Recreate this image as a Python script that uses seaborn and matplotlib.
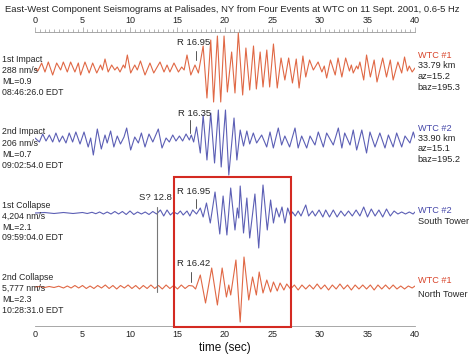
import pandas as pd
import matplotlib
matplotlib.use("Agg")
import matplotlib.pyplot as plt
from matplotlib.patches import Rectangle
from matplotlib.ticker import MultipleLocator
import seaborn as sns

# picks / amplitudes (time in s, amplitude up = +)
t_imp1 = [0.0, 0.3, 0.7, 1.05, 1.4, 1.86, 2.28, 2.7, 2.98, 3.4, 3.75, 4.2, 4.56, 4.8, 5.26, 5.7,
          6.07, 6.5, 6.9, 7.1, 7.37, 7.7, 8.07, 8.4, 8.66, 8.95, 9.3, 9.47, 9.72, 10.07, 10.5,
          10.77, 11.1, 11.58, 12.1, 12.5, 13.16, 13.58, 13.9, 14.2, 14.63, 15.1, 15.44, 15.7,
          16.0, 16.4, 16.84, 17.2, 17.7, 18.1, 18.5, 18.8, 19.2, 19.55, 19.9, 20.25, 20.7, 21.05,
          21.4, 21.86, 22.2, 22.6, 23.0, 23.3, 23.7, 24.0, 24.4, 24.7, 25.1, 25.5, 25.9, 26.3,
          26.7, 27.1, 27.5, 27.8, 28.2, 28.5, 28.9, 29.3, 29.8, 30.2, 30.45, 30.7, 31.1, 31.6,
          31.9, 32.3, 32.7, 33.1, 33.3, 33.5, 33.85, 34.0, 34.2, 34.6, 34.9, 35.3, 35.7, 36.0,
          36.6, 37.0, 37.4, 37.7, 38.2, 38.6, 38.9, 39.2, 39.4, 39.7, 40.0]
a_imp1 = [0, -3, 5, -4, 6, -7, 5, -2, 6, -4, 6, -4, 5, -7, 6, -5,
          5, -5, 3, -2, 9, -4, 3, -2, 1, -4, 3, 0, 13, -5, 3,
          -2, 7, -7, 5, -5, 6, -4, 3, -4, 5, -4, 1, -2,
          13, -7, 3, -5, 22, -30, 28, -34, 32, -34, 32, -24, 16, -25,
          35, -27, 20, -22, 22, -21, 16, -19, 18, -19, 24, -20, 10, -12,
          10, -15, 9, -20, 12, -9, 8, -2, 6, -4, 2, -10, 8, -7,
          10, -9, 10, -3, 3, -5, 2, -1, 6, -12, 13, -9, 8, -14,
          10, -9, 8, -12, 6, -5, 11, -3, 2, -4, 0]

t_imp2 = [0.0, 0.46, 0.81, 1.16, 1.51, 1.86, 2.2, 2.56, 2.9, 3.26, 3.6, 3.96, 4.3, 4.74, 5.16,
          5.6, 5.86, 6.14, 6.56, 6.98, 7.37, 7.6, 7.96, 8.3, 8.66, 9.0, 9.37, 9.65, 10.07, 10.5,
          10.88, 11.2, 11.58, 12.0, 12.4, 12.98, 13.37, 13.8, 14.14, 14.5, 14.84, 15.2, 15.54,
          15.9, 16.25, 16.45, 16.7, 17.0, 17.4, 17.7, 18.1, 18.5, 18.9, 19.3, 19.6, 20.05, 20.4,
          20.95, 21.25, 21.6, 21.95, 22.3, 22.6, 22.98, 23.33, 23.86, 24.39, 24.74, 25.09, 25.61,
          25.96, 26.3, 26.8, 27.37, 27.7, 28.07, 28.6, 28.95, 29.47, 29.82, 30.35, 30.7, 31.4,
          31.93, 32.3, 32.6, 33.16, 33.5, 33.86, 34.4, 34.9, 35.26, 35.79, 36.3, 36.84, 37.2,
          37.7, 38.07, 38.6, 38.95, 39.47, 39.82, 40.0]
a_imp2 = [0, -4, 4, -3, 3, -4, 5, -4, 2, -5, 5, -4, 6, -6, 6,
          -9, 0, -17, 9, -11, 3, -5, 7, -9, 2, -6, 1, 10, -12, 1,
          -5, 5, -9, 4, -4, 9, -10, 0, -4, 3, -3, 2, -3,
          4, -2, 3, -4, 11, -15, 23, -22, 25, -25, 28, -29, 28, -37,
          20, -22, 8, -8, 7, -6, 5, -5, 3, -9, 6, -10, 10,
          -7, 2, -9, 10, -10, 2, -10, 2, -7, 6, -9, 5, -7,
          10, -10, 5, -7, 8, -12, 8, -15, 6, -9, 5, -10, 3,
          -9, 5, -9, 2, -5, 6, 0]

t_col1 = [0.0, 1.0, 2.0, 3.0, 4.0, 5.0, 5.5, 6.0, 6.4, 6.8, 7.2, 7.6, 8.0, 8.4, 8.8, 9.2, 9.6,
          10.0, 10.4, 10.8, 11.2, 11.6, 12.0, 12.4, 12.8, 13.2, 13.55, 13.9, 14.25, 14.6, 15.0,
          15.3, 15.6, 16.0, 16.3, 16.6, 17.0, 17.4, 17.7, 18.05, 18.45, 18.95, 19.45, 19.8, 20.2,
          20.6, 21.05, 21.3, 21.45, 21.6, 21.95, 22.3, 22.6, 23.15, 23.55, 24.0, 24.45, 24.8,
          25.1, 25.4, 25.7, 26.0, 26.3, 26.6, 26.9, 27.1, 27.4, 27.7, 28.0, 28.5, 28.8, 29.2,
          29.5, 29.9, 30.3, 30.6, 31.0, 31.4, 31.8, 32.2, 32.6, 33.0, 33.4, 33.8, 34.2, 34.6,
          35.0, 35.4, 35.8, 36.2, 36.6, 37.0, 37.4, 37.8, 38.2, 38.6, 39.0, 39.4, 39.8, 40.0]
a_col1 = [0, 0.5, -0.5, 0.5, -0.5, 0.5, -0.5, 0.7, -0.7, 1, -1, 1, -1, 1.5, -1, 1.5, -1.5,
          2, -1.5, 1, -1, 1, -1.5, 1.5, -1, 3, -3, 3, -2, 1, -1,
          2, -2, 2, -3, 3, -1, 5, -4, 10, -10, 21, -21, 17, -22,
          25, -17, 5, -5, 27, -20, 15, -25, 19, -35, 28, -17, 13,
          -10, 5, -4, 6, -10, 5, -3, 1, -3, 2, -3, 8, -3, 2,
          -3, 3, -4, 3, -4, 3, -4, 2, -3, 2, -3, 3, -3, 6,
          -4, 4, -3, 3, -4, 4, -3, 2, -1, 1, -1, 1, -1, 1]

t_col2 = [0.0, 0.5, 1.0, 1.5, 2.0, 2.5, 3.0, 3.4, 3.8, 4.2, 4.6, 5.0, 5.4, 5.8, 6.2, 6.6, 7.0,
          7.4, 7.8, 8.2, 8.6, 9.0, 9.4, 9.8, 10.2, 10.6, 11.0, 11.4, 11.8, 12.2, 12.6, 13.0,
          13.4, 13.8, 14.2, 14.6, 15.0, 15.4, 15.8, 16.2, 16.6, 16.9, 17.4, 17.95, 18.6, 19.2,
          19.7, 20.15, 20.4, 20.6, 21.15, 21.6, 22.0, 22.5, 22.9, 23.3, 23.6, 24.0, 24.4, 24.8,
          25.1, 25.5, 25.8, 26.2, 26.5, 26.9, 27.3, 27.7, 28.1, 28.5, 28.9, 29.3, 29.7, 30.1,
          30.5, 30.9, 31.3, 31.7, 32.1, 32.5, 32.9, 33.3, 33.7, 34.1, 34.5, 34.9, 35.3, 35.7,
          36.1, 36.5, 36.9, 37.3, 37.7, 38.1, 38.5, 38.9, 39.3, 39.7, 40.0]
a_col2 = [0, 0.5, -0.5, 0.5, -0.5, 0.8, -1, 1, -1, 1.5, -1, 1.5, -1.5, 1, -1.5, 1.5, -1,
          2, -1.5, 1.5, -2, 1.5, -1, 2, -1.5, 1.5, -2, 1.5, -1.5, 2, -1.5, 1.5,
          -2, 2, -1.5, 1.5, -2, 2, -1.5, 1.5, 1, -2, 12, -16, 19, -18,
          19, -10, 2, -8, 27, -35, 30, -13, 10, -8, 15, -6, 7, -5,
          5, -4, 4, -3, 3, -2, 2, -3, 2, -2, 2, -2, 3, -2,
          2, -3, 2, -2, 3, -2, 2, -3, 2, -2, 2, -2, 2, -3,
          2, -2, 2, -2, 2, -2, 1, -2, 1, -1, 1]

trace_t = [t_imp1, t_imp2, t_col1, t_col2]
trace_a = [a_imp1, a_imp2, a_col1, a_col2]
event_names = ["1st Impact", "2nd Impact", "1st Collapse", "2nd Collapse"]
peak_vel = ["288 nm/s", "206 nm/s", "4,204 nm/s", "5,777 nm/s"]
mags = ["ML=0.9", "ML=0.7", "ML=2.1", "ML=2.3"]
origin_times = ["08:46:26.0 EDT", "09:02:54.0 EDT", "09:59:04.0 EDT", "10:28:31.0 EDT"]
sources = ["WTC #1", "WTC #2", "WTC #2", "WTC #1"]
r_picks = [16.95, 16.35, 16.95, 16.42]
s_pick = 12.8
right_notes = [["33.79 km", "az=15.2", "baz=195.3"],
               ["33.90 km", "az=15.1", "baz=195.2"],
               ["South Tower"],
               ["North Tower"]]

red_c = "#e06845"
blue_c = "#5c5fb5"
txt_red = "#d8442a"
txt_blue = "#4446a8"
line_cols = [red_c, blue_c, blue_c, red_c]
lab_cols = [txt_red, txt_blue, txt_blue, txt_red]

# baselines in pixel rows (axes y = image rows)
base = [68, 138, 213, 287]
left_y = [[59.5, 70.5, 81.3, 92], [131.7, 143, 154, 165], [205, 216.5, 227, 237.7], [277, 288.3, 299, 310]]
right_y = [[55, 65.5, 76, 87], [128.3, 138, 148.5, 159], [210, 221], [280.5, 294]]

sns.set_theme(style="white")
plt.rcParams["font.family"] = ["Liberation Sans", "DejaVu Sans"]

fig = plt.figure(figsize=(4.7, 3.6), dpi=100)
ax = fig.add_axes([35 / 470, 1 - 326 / 360, 380 / 470, (326 - 32) / 360])
ax.set_xlim(0, 40)
ax.set_ylim(326, 32)

for i in range(4):
    df = pd.DataFrame({"t": trace_t[i], "y": [base[i] - a for a in trace_a[i]]})
    sns.lineplot(data=df, x="t", y="y", ax=ax, color=line_cols[i], linewidth=0.8,
                 estimator=None, sort=False)

# spines / rulers
for s in ["left", "right", "top"]:
    ax.spines[s].set_visible(False)
ax.spines["bottom"].set_color("#999999")
ax.spines["bottom"].set_linewidth(0.6)
ax.set_yticks([])
ax.set_ylabel("")
ax.xaxis.set_major_locator(MultipleLocator(5))
ax.xaxis.set_minor_locator(MultipleLocator(0.5))
ax.tick_params(axis="x", which="both", direction="in", colors="#999999", width=0.5,
               labelcolor="#222222", labelsize=6.5, pad=3)
ax.tick_params(axis="x", which="major", length=3.5)
ax.tick_params(axis="x", which="minor", length=2.5)
ax.set_xlabel("time (sec)", fontsize=8.5, labelpad=2, color="#111111")

sec = ax.secondary_xaxis("top")
sec.spines["top"].set_color("#999999")
sec.spines["top"].set_linewidth(0.6)
sec.xaxis.set_major_locator(MultipleLocator(5))
sec.xaxis.set_minor_locator(MultipleLocator(0.5))
sec.tick_params(axis="x", which="both", direction="out", colors="#999999", width=0.5,
                labelcolor="#222222", labelsize=6.5, pad=1.5)
sec.tick_params(axis="x", which="major", length=3.5)
sec.tick_params(axis="x", which="minor", length=2.5)

fs = 6.35
for i in range(4):
    for txt, yy in zip([event_names[i], peak_vel[i], mags[i], origin_times[i]], left_y[i]):
        ax.text(-3.5, yy, txt, fontsize=fs, va="center", ha="left", clip_on=False)
    ax.text(40.3, right_y[i][0], sources[i], fontsize=6.6, color=lab_cols[i],
            va="center", ha="left", clip_on=False)
    for txt, yy in zip(right_notes[i], right_y[i][1:]):
        ax.text(40.3, yy, txt, fontsize=6.6, va="center", ha="left", clip_on=False)

# R picks
pick_lab_y = [42, 113, 191, 263]
pick_tick = [(51, 60), (120, 133), (199, 208), (272, 282)]
for i in range(4):
    ax.plot([r_picks[i], r_picks[i]], list(pick_tick[i]), color="#555555", lw=0.7)
    ax.text(16.75, pick_lab_y[i], f"R {r_picks[i]:.2f}", fontsize=6.8, ha="center", va="center")

ax.plot([s_pick, s_pick], [207, 292], color="#777777", lw=0.8)
ax.text(s_pick - 0.1, 197, f"S? {s_pick}", fontsize=6.8, ha="center", va="center")

ax.add_patch(Rectangle((14.6, 177), 12.4, 149.5, fill=False, edgecolor="#d42a22",
                       lw=1.5, clip_on=False, zorder=5))

fig.text(5 / 470, 1 - 10 / 360,
         "East-West Component Seismograms at Palisades, NY from Four Events at WTC on 11 Sept. 2001, 0.6-5 Hz",
         fontsize=6.8, ha="left", va="center")

fig.savefig("out.png", dpi=100)
